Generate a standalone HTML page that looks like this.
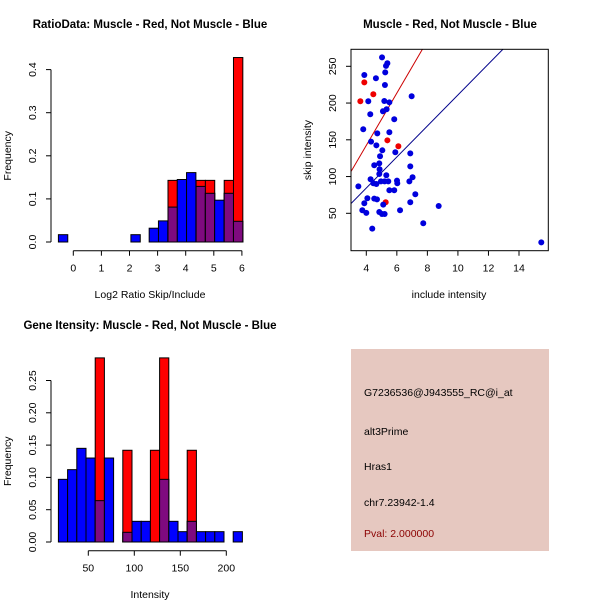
<!DOCTYPE html>
<html><head><meta charset="utf-8"><style>
body{margin:0;background:#fff;}
svg{display:block;font-family:"Liberation Sans",sans-serif;}
</style></head><body>
<svg id="s" width="600" height="600" viewBox="0 0 600 600">
<rect width="600" height="600" fill="#fff"/>
<text x="150" y="28" font-size="11.5" font-weight="bold" text-anchor="middle">RatioData: Muscle - Red, Not Muscle - Blue</text>
<text x="450" y="28" font-size="11.5" font-weight="bold" text-anchor="middle">Muscle - Red, Not Muscle - Blue</text>
<text x="150" y="329" font-size="11.5" font-weight="bold" text-anchor="middle">Gene Itensity: Muscle - Red, Not Muscle - Blue</text>
<g id="p1"></g>
<g id="p2"></g>
<g id="p3"></g>
<g>
<rect x="351" y="349" width="198" height="202" fill="#E6C8C0"/>
<text x="364" y="396" font-size="10.5">G7236536@J943555_RC@i_at</text>
<text x="364" y="435" font-size="10.5">alt3Prime</text>
<text x="364" y="470" font-size="10.5">Hras1</text>
<text x="364" y="506" font-size="10.5">chr7.23942-1.4</text>
<text x="364" y="537" font-size="10.5" fill="#8B0000">Pval: 2.000000</text>
</g>
</svg>
<script>
// ---- Plot 1 data ----
const ratioBinStarts=[-0.53,2.05,2.7,3.03,3.37,3.7,4.03,4.37,4.7,5.03,5.37,5.7];
const ratioBlue=[0.017,0.017,0.032,0.049,0.081,0.145,0.161,0.129,0.113,0.097,0.113,0.048];
const ratioRed=[0,0,0,0,0.143,0,0,0.143,0.143,0,0.143,0.428];
const ratioXTicks=[0,1,2,3,4,5,6];
const ratioYTicks=[0.0,0.1,0.2,0.3,0.4];
const ratioBinWidth=0.333;
// ---- Plot 2 data ----
const blueX=[5.03,5.38,5.29,3.87,4.63,5.24,5.22,4.13,5.18,5.51,5.33,5.09,6.97,4.26,5.83,3.80,5.51,4.72,4.31,4.66,5.05,5.90,4.90,6.88,4.85,4.52,6.88,4.87,4.85,5.31,7.03,4.28,4.96,5.20,5.44,6.01,6.03,6.82,4.46,4.66,5.51,5.83,7.21,4.07,4.52,4.70,3.87,6.88,3.74,4.00,4.85,5.11,5.03,5.20,6.21,8.74,7.73,4.39,15.46,3.48];
const blueY=[262.2,254.1,250.5,238.2,233.7,241.8,224.6,202.4,202.8,201.0,191.5,188.8,209.2,184.7,177.9,164.3,160.2,158.8,147.5,142.5,135.7,133.0,127.6,131.6,118.0,115.3,113.9,109.9,103.5,101.7,99.0,96.3,93.5,93.5,93.5,94.4,90.8,93.5,90.8,89.9,81.3,81.3,75.9,70.4,70.0,69.0,63.6,65.0,54.1,50.5,51.8,61.8,49.1,49.1,54.1,60.0,36.4,29.1,10.5,86.7];
const redX=[3.61,3.87,4.46,5.38,6.10,5.27];
const redY=[202.4,228.2,211.9,149.3,141.2,65.0];
const redSlope=35.6, blueSlope=21.1;
const scatXTicks=[4,6,8,10,12,14];
const scatYTicks=[50,100,150,200,250];
// ---- Plot 3 data ----
const intBinStarts=[17.5,27.5,37.5,47.5,57.5,67.5,77.5,87.5,97.5,107.5,117.5,127.5,137.5,147.5,157.5,167.5,177.5,187.5,197.5,207.5];
const intBlue=[0.097,0.112,0.145,0.13,0.064,0.13,0,0.015,0.032,0.032,0,0.097,0.032,0.016,0.032,0.016,0.016,0.016,0,0.016];
const intRed=[0,0,0,0,0.285,0,0,0.142,0,0,0.142,0.285,0,0,0.142,0,0,0,0,0];
const intXTicks=[50,100,150,200];
const intYTicks=[0.00,0.05,0.10,0.15,0.20,0.25];
const intBinWidth=10;

const NS='http://www.w3.org/2000/svg';
function mk(p,tag,attrs){const e=document.createElementNS(NS,tag);for(const k in attrs)e.setAttribute(k,attrs[k]);p.appendChild(e);return e;}
function txt(p,x,y,s,rot,anchor,fs){const t=mk(p,'text',{x:x,y:y,'font-size':fs||10.5,'text-anchor':anchor||'middle'});if(rot)t.setAttribute('transform','rotate(-90 '+x+' '+y+')');t.textContent=s;return t;}

function hist(g,starts,blue,red,w,xs,ys,xTicks,yTicks,xAxisY,yAxisX,xFmt,yFmt,xlab,xlabY){
  starts.forEach((s,i)=>{
    const x0=xs(s),x1=xs(s+w);
    const mn=Math.min(blue[i],red[i]);
    if(blue[i]>0){const r=mk(g,'rect',{x:x0,y:ys(blue[i]),width:x1-x0,height:ys(0)-ys(blue[i]),fill:'#0000FF',stroke:'#000','stroke-width':1});
      }
    if(red[i]>0){const r=mk(g,'rect',{x:x0,y:ys(red[i]),width:x1-x0,height:ys(0)-ys(red[i]),fill:'#FF0000',stroke:'#000','stroke-width':1});
      }
    if(mn>0){const r=mk(g,'rect',{x:x0,y:ys(mn),width:x1-x0,height:ys(0)-ys(mn),fill:'#7F0A7F',stroke:'#000','stroke-width':1});
      }
  });
  mk(g,'line',{x1:yAxisX,y1:ys(yTicks[0]),x2:yAxisX,y2:ys(yTicks[yTicks.length-1]),stroke:'#000'});
  yTicks.forEach(v=>{mk(g,'line',{x1:yAxisX-5,y1:ys(v),x2:yAxisX,y2:ys(v),stroke:'#000'});
    const t=txt(g,yAxisX-15,ys(v),yFmt(v),true);});
  mk(g,'line',{x1:xs(xTicks[0]),y1:xAxisY,x2:xs(xTicks[xTicks.length-1]),y2:xAxisY,stroke:'#000'});
  xTicks.forEach(v=>{mk(g,'line',{x1:xs(v),y1:xAxisY,x2:xs(v),y2:xAxisY+5,stroke:'#000'});
    const t=txt(g,xs(v),xAxisY+21,xFmt(v));});
  const xl=txt(g,150,xlabY,xlab);
  const yl=txt(g,11,(ys(yTicks[0])+ys(yTicks[yTicks.length-1]))/2,'Frequency',true);
}
// Plot 1
const p1=document.getElementById('p1');
hist(p1,ratioBinStarts,ratioBlue,ratioRed,ratioBinWidth,v=>73.3+v*28.1,v=>242-v*431,ratioXTicks,ratioYTicks,250.7,51,v=>String(v),v=>v.toFixed(1),'Log2 Ratio Skip/Include',298);
// Plot 3
const p3=document.getElementById('p3');
hist(p3,intBinStarts,intBlue,intRed,intBinWidth,v=>88.3+(v-50)*0.92,v=>542-v*646,intXTicks,intYTicks,550.7,51,v=>String(v),v=>v.toFixed(2),'Intensity',598);
// Plot 2
const p2=document.getElementById('p2');
const sx=v=>366.3+(v-4)*15.27, sy=v=>213.3-(v-50)*0.735;
const bx0=351,bx1=548.3,by0=49.3,by1=250.7;
mk(p2,'defs',{}).innerHTML='<clipPath id="cl"><rect x="351" y="49.3" width="197.3" height="201.4"/></clipPath>';
const xmin=3.0,xmax=15.92;
const rl=mk(p2,'line',{x1:sx(xmin),y1:sy(redSlope*xmin),x2:sx(xmax),y2:sy(redSlope*xmax),stroke:'#CC0000','stroke-width':1,'clip-path':'url(#cl)'});

const bl=mk(p2,'line',{x1:sx(xmin),y1:sy(blueSlope*xmin),x2:sx(xmax),y2:sy(blueSlope*xmax),stroke:'#00008B','stroke-width':1,'clip-path':'url(#cl)'});

redX.forEach((x,i)=>{const c=mk(p2,'circle',{cx:sx(x),cy:sy(redY[i]),r:3,fill:'#EE0000'});
  });
blueX.forEach((x,i)=>{const c=mk(p2,'circle',{cx:sx(x),cy:sy(blueY[i]),r:3,fill:'#0000DD'});
  });
mk(p2,'rect',{x:bx0,y:by0,width:bx1-bx0,height:by1-by0,fill:'none',stroke:'#000'});
scatXTicks.forEach(v=>{mk(p2,'line',{x1:sx(v),y1:by1,x2:sx(v),y2:by1+5,stroke:'#000'});
  const t=txt(p2,sx(v),by1+21,String(v));});
scatYTicks.forEach(v=>{mk(p2,'line',{x1:bx0-5,y1:sy(v),x2:bx0,y2:sy(v),stroke:'#000'});
  const t=txt(p2,bx0-15,sy(v),String(v),true);});
const sxl=txt(p2,449,298,'include intensity');
const syl=txt(p2,311,150,'skip intensity',true);
</script>
</body></html>
